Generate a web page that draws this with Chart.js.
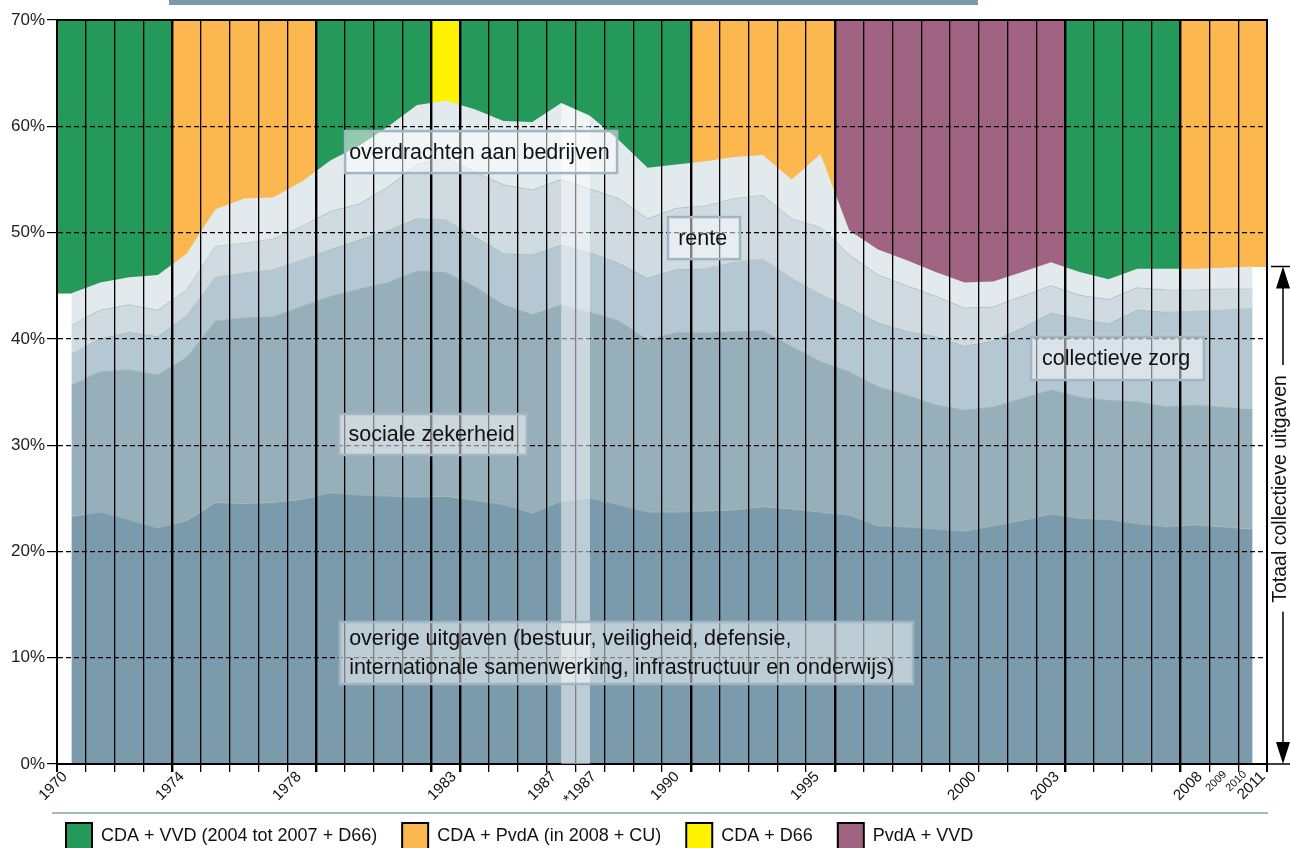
<!DOCTYPE html>
<html><head><meta charset="utf-8">
<script src="https://cdn.jsdelivr.net/npm/chart.js@4.4.1/dist/chart.umd.min.js"></script>
<style>html,body{margin:0;padding:0;background:#fff}canvas{display:block}</style>
</head><body>
<canvas id="c" width="1290" height="848"></canvas>
<script>
// ---------- data ----------
const years = ['1970','1971','1972','1973','1974','1975','1976','1977','1978','1979','1980','1981','1982','1983','1984','1985','1986','1987','*1987','1988','1989','1990','1991','1992','1993','1994','1995','1996','1997','1998','1999','2000','2001','2002','2003','2004','2005','2006','2007','2008','2009','2010'];
// % of GDP per spending category (stacked bottom to top)
const overige = [23.3,23.7,23.0,22.2,22.9,24.6,24.5,24.6,24.9,25.5,25.3,25.2,25.1,25.2,24.8,24.4,23.6,24.7,25.0,24.4,23.7,23.7,23.8,23.9,24.2,24.0,23.7,23.4,22.4,22.3,22.1,21.9,22.4,22.9,23.5,23.1,23.0,22.6,22.3,22.5,22.3,22.1];
const socialeZekerheid = [12.4,13.2,14.1,14.4,15.4,17.1,17.5,17.5,18.2,18.5,19.4,20.1,21.3,21.1,20.1,18.8,18.7,18.5,17.5,17.3,16.2,16.9,16.8,16.8,16.6,15.3,14.2,13.5,13.1,12.4,11.7,11.4,11.2,11.5,11.7,11.4,11.2,11.5,11.3,11.3,11.3,11.3];
const collectieveZorg = [2.9,3.1,3.5,3.6,3.9,4.1,4.2,4.4,4.3,4.4,4.6,4.9,4.9,4.9,4.7,4.8,5.6,5.6,5.6,5.4,5.8,5.9,6.0,6.5,6.7,6.4,6.3,6.0,6.0,6.0,6.4,6.0,6.2,6.6,7.2,7.4,7.2,8.6,8.9,8.8,9.1,9.5];
const rente = [2.7,2.7,2.6,2.5,2.4,2.9,2.8,2.9,3.2,3.6,3.4,4.1,5.1,5.8,6.1,6.5,6.1,6.2,6.0,6.1,5.6,5.8,5.9,6.0,6.0,5.6,6.3,5.0,4.5,4.3,3.8,3.6,3.2,3.0,2.6,2.2,2.3,2.1,2.1,2.0,2.0,1.8];
const overdrachten = [3.0,2.6,2.6,3.3,3.4,3.5,4.2,3.9,4.2,4.8,5.5,5.7,5.6,5.4,5.9,6.0,6.4,7.2,6.9,5.5,4.8,4.1,4.2,3.9,3.8,3.7,6.9,2.3,2.4,2.4,2.3,2.4,2.4,2.3,2.2,2.2,1.9,1.8,2.0,2.0,2.0,2.1];

const coalitions = ['CDA + VVD (2004 tot 2007 + D66)','CDA + PvdA (in 2008 + CU)','CDA + D66','PvdA + VVD'];
const coalitionByYear = [0,0,0,0,1,1,1,1,1,0,0,0,0,2,0,0,0,0,0,0,0,0,1,1,1,1,1,3,3,3,3,3,3,3,3,0,0,0,0,1,1,1];

const tickLabels = ['1970','1974','1978','1983','1987','*1987','1990','1995','2000','2003','2008','2009','2010','2011'];
const smallTickLabels = ['2009','2010'];
const yTicks = [0,10,20,30,40,50,60,70];

// ---------- layout / style config ----------
const tickLabelAt = [0.28,4.34,8.40,13.78,17.25,18.64,21.52,26.38,31.83,34.71,39.67,40.54,41.23,41.86];
const coalitionColors = ['#24995a','#fcb74f','#fff200','#a06381'];
const layerColors = ['#7b9aab','#97aebb','#b5c7d2','#cfdae1','#e3eaee'];
const annotations = [
  {lines:['overdrachten aan bedrijven'], box:[10.0,59.55,19.44,55.6], tx:10.14},
  {lines:['rente'], box:[21.21,51.46,23.71,47.5], tx:21.56},
  {lines:['collectieve zorg'], box:[33.81,40.17,39.81,36.12], tx:34.19},
  {lines:['sociale zekerheid'], box:[9.79,32.93,16.31,29.07], tx:10.12},
  {lines:['overige uitgaven (bestuur, veiligheid, defensie,','internationale samenwerking, infrastructuur en onderwijs)'], box:[9.82,13.36,29.71,7.53], tx:10.14}
];

const N = years.length;
const series = [
  ['overige uitgaven', overige],
  ['sociale zekerheid', socialeZekerheid],
  ['collectieve zorg', collectieveZorg],
  ['rente', rente],
  ['overdrachten aan bedrijven', overdrachten]
];
const total = years.map((_, i) => series.reduce((s, d) => s + d[1][i], 0));
const breakIndex = years.indexOf('*1987');

Chart.defaults.font.family = "'Liberation Sans', Arial, Helvetica, sans-serif";
Chart.defaults.color = '#111';

const bgDataset = {
  type: 'bar', label: 'kabinet', xAxisID: 'x', yAxisID: 'yb', order: 10,
  data: years.map((y, i) => ({x: i + 0.5, y: [(i === 0 || i === N - 1) ? total[i] : 0, 70]})),
  backgroundColor: years.map((y, i) => coalitionColors[coalitionByYear[i]]),
  borderWidth: 0, barPercentage: 1, categoryPercentage: 1, grouped: false
};
const areaDatasets = series.map((s, k) => ({
  type: 'line', label: s[0], xAxisID: 'x', yAxisID: 'y', order: 0, stack: 'uitgaven',
  data: s[1].map((v, i) => ({x: i + 0.5, y: v})),
  backgroundColor: layerColors[k],
  fill: k === 0 ? 'origin' : '-1',
  borderColor: k === 4 ? 'rgba(0,0,0,0)' : 'rgba(172,200,190,0.75)',
  borderWidth: k === 4 ? 0 : 0.8,
  pointRadius: 0, tension: 0
}));

function boundaryWidth(c) {
  if (!c || !c.tick) return 1.3;
  const v = c.tick.value;
  if (v === 0 || v === N) return 2;
  return coalitionByYear[v - 1] !== coalitionByYear[v] ? 2.4 : 1.3;
}
const noLabelClip = s => { s._computeLabelArea = () => undefined; };

const decoPlugin = {
  id: 'deco',
  afterDraw(chart) {
    const {ctx, chartArea: ca} = chart;
    const x = chart.scales.x, y = chart.scales.y;
    ctx.save();
    // break band between 1987 and *1987
    const bx0 = x.getPixelForValue(breakIndex - 0.5), bx1 = x.getPixelForValue(breakIndex + 0.5);
    ctx.beginPath();
    ctx.moveTo(bx0, y.getPixelForValue(total[breakIndex - 1]));
    ctx.lineTo(bx1, y.getPixelForValue(total[breakIndex]));
    ctx.lineTo(bx1, y.getPixelForValue(0));
    ctx.lineTo(bx0, y.getPixelForValue(0));
    ctx.closePath();
    ctx.fillStyle = 'rgba(255,255,255,0.5)';
    ctx.fill();
    // annotation boxes
    ctx.font = "21.5px 'Liberation Sans', Arial, sans-serif";
    ctx.textBaseline = 'middle';
    ctx.textAlign = 'left';
    annotations.forEach(a => {
      const l = x.getPixelForValue(a.box[0]), t = y.getPixelForValue(a.box[1]);
      const r = x.getPixelForValue(a.box[2]), b = y.getPixelForValue(a.box[3]);
      ctx.fillStyle = 'rgba(255,255,255,0.5)';
      ctx.fillRect(l, t, r - l, b - t);
      ctx.strokeStyle = '#a2b6c2';
      ctx.lineWidth = 2.5;
      ctx.strokeRect(l, t, r - l, b - t);
      ctx.fillStyle = '#111';
      const lh = 29, cy = (t + b) / 2, tx = x.getPixelForValue(a.tx);
      a.lines.forEach((s, j) => {
        ctx.fillText(s, tx, cy + (j - (a.lines.length - 1) / 2) * lh + 1);
      });
    });
    // top title bar & separator line
    ctx.fillStyle = '#7b9aab';
    ctx.fillRect(169, 0, 809, 5);
    ctx.fillStyle = '#a0b8c6';
    ctx.fillRect(52, 812, ca.right - 52 + 1, 2);
    // right-hand arrow: Totaal collectieve uitgaven
    const ax = ca.right + 16;
    const top = y.getPixelForValue(total[N - 1]), bot = y.getPixelForValue(0);
    ctx.strokeStyle = '#000'; ctx.fillStyle = '#000'; ctx.lineWidth = 1.5;
    ctx.beginPath();
    ctx.moveTo(ca.right + 4, top); ctx.lineTo(ax + 8, top);
    ctx.moveTo(ca.right, bot); ctx.lineTo(ax + 8, bot);
    ctx.stroke();
    const label = 'Totaal collectieve uitgaven';
    ctx.font = "19.5px 'Liberation Sans', Arial, sans-serif";
    const tw = ctx.measureText(label).width;
    const cy = top + 0.447 * (bot - top);
    ctx.beginPath();
    ctx.moveTo(ax, top + 4); ctx.lineTo(ax, cy - tw / 2 - 10);
    ctx.moveTo(ax, cy + tw / 2 + 9); ctx.lineTo(ax, bot - 4);
    ctx.stroke();
    ctx.beginPath();
    ctx.moveTo(ax, top); ctx.lineTo(ax - 7, top + 22); ctx.lineTo(ax + 7, top + 22); ctx.closePath();
    ctx.moveTo(ax, bot); ctx.lineTo(ax - 7, bot - 22); ctx.lineTo(ax + 7, bot - 22); ctx.closePath();
    ctx.fill();
    ctx.translate(ax - 2, cy);
    ctx.rotate(-Math.PI / 2);
    ctx.textAlign = 'center'; ctx.textBaseline = 'middle';
    ctx.fillStyle = '#111';
    ctx.fillText(label, 0, 0);
    ctx.restore();
  }
};

new Chart(document.getElementById('c'), {
  data: {datasets: [bgDataset, ...areaDatasets]},
  options: {
    responsive: false, animation: false, devicePixelRatio: 1,
    layout: {padding: {top: 20, left: 41, right: 23, bottom: -11}},
    plugins: {
      tooltip: {enabled: false},
      legend: {
        position: 'bottom', align: 'start', onClick: null,
        labels: {
          boxWidth: 26, boxHeight: 26, padding: 25, color: '#111', font: {size: 18},
          generateLabels: () => coalitions.map((t, i) => ({text: t, fillStyle: coalitionColors[i], strokeStyle: '#000', lineWidth: 2, hidden: false, fontColor: '#111'}))
        }
      }
    },
    scales: {
      x: {
        type: 'linear', position: 'bottom', min: 0, max: N, offset: false,
        afterBuildTicks: s => { s.ticks = Array.from({length: N + 1}, (_, i) => ({value: i})); },
        afterFit: s => { s.height = 8; },
        ticks: {display: false, z: 1},
        grid: {z: 1, offset: false, color: '#000', lineWidth: c => boundaryWidth(c), tickLength: 8, tickColor: '#000'},
        border: {display: true, color: '#000', width: 2, z: 1}
      },
      xl: {
        type: 'linear', position: 'bottom', min: 0, max: N, weight: 1, offset: false,
        afterBuildTicks: s => { s.ticks = tickLabelAt.map(v => ({value: v})); },
        afterFit: s => { s.height = 26; noLabelClip(s); },
        ticks: {
          z: 1, autoSkip: false, minRotation: 45, maxRotation: 45, padding: -4, color: '#111',
          callback: (v, i) => tickLabels[i],
          font: c => ({size: (c && c.index !== undefined && smallTickLabels.includes(tickLabels[c.index])) ? 11 : 15})
        },
        grid: {display: false, drawTicks: false, offset: false},
        border: {display: false}
      },
      xt: {
        type: 'linear', position: 'top', min: 0, max: N, offset: false,
        afterFit: s => { s.height = 0; },
        ticks: {display: false},
        grid: {display: false, drawTicks: false, offset: false},
        border: {display: true, color: '#000', width: 2, z: 1}
      },
      y: {
        type: 'linear', position: 'left', stacked: true, min: 0, max: 70,
        afterBuildTicks: s => { s.ticks = yTicks.map(v => ({value: v})); },
        afterFit: s => { s.width = 16; noLabelClip(s); },
        ticks: {z: 1, callback: v => v + '%', padding: 2, color: '#222', font: {size: 17}},
        grid: {z: 1, color: c => (c && c.tick && (c.tick.value === 0 || c.tick.value === 70)) ? 'rgba(0,0,0,0)' : '#000', lineWidth: 1.2, tickLength: 10, tickColor: '#000', tickWidth: 1.2},
        border: {display: true, color: '#000', width: 2, dash: [5, 3], z: 1}
      },
      yb: {type: 'linear', display: false, min: 0, max: 70}
    }
  },
  plugins: [decoPlugin]
});
</script>
</body></html>
